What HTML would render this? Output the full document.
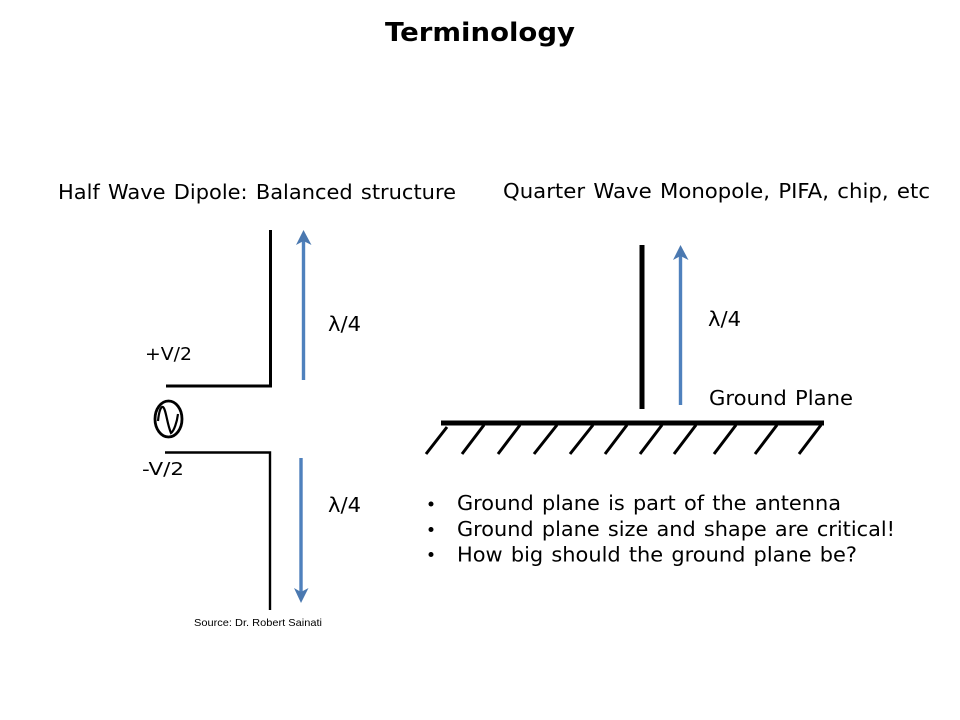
<!DOCTYPE html>
<html><head><meta charset="utf-8"><title>Terminology</title>
<style>html,body{margin:0;padding:0;background:#fff}svg{display:block}text{font-family:"DejaVu Sans","Liberation Sans",sans-serif;fill:#000;word-spacing:1.5px}</style></head>
<body>
<svg width="960" height="720" viewBox="0 0 960 720" xmlns="http://www.w3.org/2000/svg">
<rect width="960" height="720" fill="#fff"/>
<text x="385" y="41" font-size="26" font-weight="bold" textLength="190" lengthAdjust="spacingAndGlyphs">Terminology</text>
<text x="58" y="199" font-size="20" textLength="398" lengthAdjust="spacingAndGlyphs">Half Wave Dipole: Balanced structure</text>
<text x="503" y="198" font-size="20" textLength="427" lengthAdjust="spacingAndGlyphs">Quarter Wave Monopole, PIFA, chip, etc</text>

<g fill="none" stroke="#000">
<path d="M166 386H270.5V230" stroke-width="3"/>
<path d="M165 452.5H270V610" stroke-width="2.4"/>
<ellipse cx="168.5" cy="419" rx="13.5" ry="18" stroke-width="2.8"/>
<path d="M158 421C159 411 161 406 163 407C166 409 167 424 171 433C174 431 177 422 178 414" stroke-width="2.2"/>
<path d="M642 245V409" stroke-width="5"/>
<path d="M441 423H824" stroke-width="5"/>
<g stroke-width="3">
<path d="M447 427L426 454M484 425L462 454M520 425L498 454M557 425L534 454M593 425L570 454M627 425L605 454M662 425L640 454M696 425L674 454M736 425L714 454M777 425L755 454M821 425L799 454"/>
</g>
</g>

<g fill="none" stroke="#4f81bd" stroke-width="3.4">
<path d="M303.5 380V236"/>
<path d="M301 458V596"/>
<path d="M680.5 405V252"/>
</g>
<g fill="#4a78b0">
<path d="M303.5 230L311.5 245L303.5 241L296 245Z"/>
<path d="M301 603L294 588L301 592L308.5 588Z"/>
<path d="M680.5 245L688.5 260L680.5 256L673 260Z"/>
</g>

<text x="328" y="331" font-size="20" textLength="33" lengthAdjust="spacingAndGlyphs">λ/4</text>
<text x="328" y="512" font-size="20" textLength="33" lengthAdjust="spacingAndGlyphs">λ/4</text>
<text x="708" y="326" font-size="20" textLength="33" lengthAdjust="spacingAndGlyphs">λ/4</text>
<text x="145" y="360" font-size="18" textLength="47" lengthAdjust="spacingAndGlyphs">+V/2</text>
<text x="142" y="475" font-size="18" textLength="42" lengthAdjust="spacingAndGlyphs">-V/2</text>
<text x="709" y="405" font-size="20" textLength="144" lengthAdjust="spacingAndGlyphs">Ground Plane</text>

<circle cx="431" cy="504" r="2.5" fill="#000"/>
<circle cx="431" cy="529.5" r="2.5" fill="#000"/>
<circle cx="431" cy="554.5" r="2.5" fill="#000"/>
<text x="457" y="510" font-size="20" textLength="384" lengthAdjust="spacingAndGlyphs">Ground plane is part of the antenna</text>
<text x="457" y="536" font-size="20" textLength="438" lengthAdjust="spacingAndGlyphs">Ground plane size and shape are critical!</text>
<text x="457" y="561.5" font-size="20" textLength="400" lengthAdjust="spacingAndGlyphs">How big should the ground plane be?</text>

<text x="194" y="626" font-size="10.5" textLength="128" lengthAdjust="spacingAndGlyphs" style="font-family:'Liberation Sans',sans-serif;word-spacing:0">Source: Dr. Robert Sainati</text>
</svg>
</body></html>
